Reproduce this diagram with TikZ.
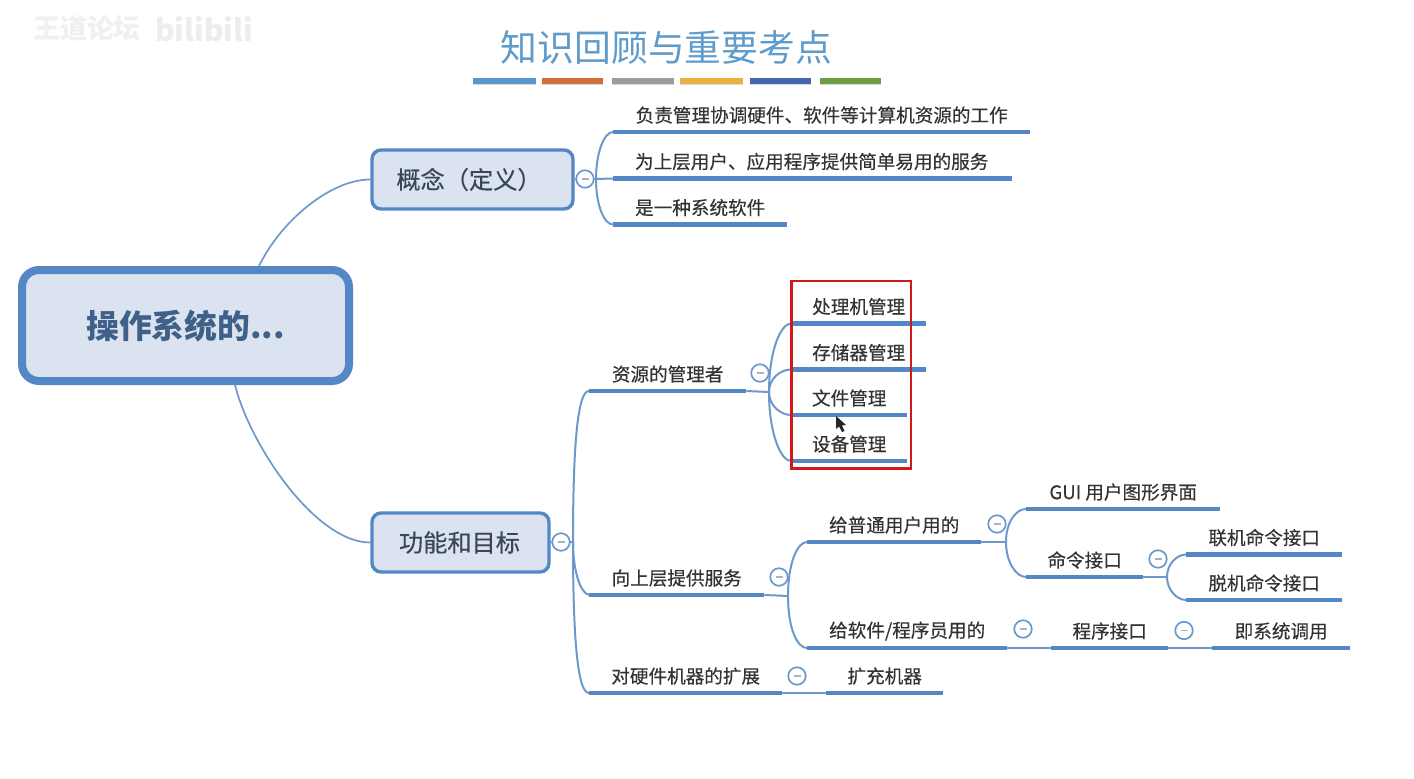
\documentclass[tikz,border=0pt]{standalone}
\usepackage{fontspec}
\setmainfont{Noto Sans CJK SC}
\newfontfamily\semifont[FakeBold=0.35]{Noto Sans CJK SC}
\definecolor{blueline}{HTML}{5487C6}
\definecolor{thinline}{HTML}{6C98CC}
\definecolor{boxfill}{HTML}{DAE3EF}
\definecolor{roottext}{HTML}{3F6088}
\definecolor{titleblue}{HTML}{5F9CCB}
\definecolor{bodytext}{HTML}{333333}
\definecolor{level1text}{HTML}{3A4654}
\definecolor{minusgray}{HTML}{A8B4C4}
\tikzset{
  x=1pt,y=-1pt,
  rootbox/.style={draw=blueline,fill=boxfill,line width=8pt,rounded corners=17pt,inner sep=0pt,
    font=\fontsize{32.8}{36}\selectfont\bfseries,text=roottext},
  levelbox/.style={draw=blueline,fill=boxfill,line width=3.4pt,rounded corners=9pt,inner sep=0pt,
    font=\semifont\fontsize{24.2}{28}\selectfont,text=level1text},
  topicnode/.style={inner sep=0pt,anchor=south west,minimum height=33.5pt,
    font=\semifont\fontsize{18.6}{22}\selectfont,text=bodytext},
  topicline/.style={draw=blueline,line width=4.8pt},
  branch/.style={draw=thinline,line width=2pt},
  rootbranch/.style={draw=thinline,line width=1.7pt},
  collapse/.style={circle,draw=thinline,line width=1.7pt,fill=white,minimum size=17.5pt,inner sep=0pt},
  colorbar/.style={line width=6pt},
  barshadow/.style={line width=6pt,draw=black!30,opacity=.5}
}
\newcommand{\tpc}[5]{%
  \node[topicnode,minimum width={(#3-#2)*1pt}] (#1) at (#2,#4) {#5};
  \draw[topicline] (#1.south west) -- (#1.south east);}
\newcommand{\minusmark}{\textcolor{minusgray}{\rule[0.2pt]{7pt}{1.2pt}}}
\begin{document}
\begin{tikzpicture}
\useasboundingbox (0,0) rectangle (1414,779);
% watermark
\node[text=black!6,font=\fontsize{27}{30}\selectfont\bfseries] (wm1) at (87,28) {王道论坛};
\node[text=black!7,font=\fontsize{30}{32}\selectfont\bfseries] (wm2) at (204,29) {bilibili};
% title
\node[text=titleblue,font=\fontsize{36.8}{42}\selectfont] (title) at (666.5,48) {知识回顾与重要考点};
\foreach \a/\b/\c in {473/536/5B96CB,542/603/CF7138,612/674/9C9C9C,680/743/EDB043,750/811/4468AE,820/881/6F9C47}{
  \draw[barshadow] (\a,82) -- (\b,82);
  \definecolor{barcol}{HTML}{\c}
  \draw[colorbar,draw=barcol] (\a,80.5) -- (\b,80.5);
}
% main boxes
\node[levelbox,minimum width=201pt,minimum height=59pt] (concept) at (472.5,179.5) {\hspace{-7pt}概念（定义）};
\node[levelbox,minimum width=177pt,minimum height=59pt] (func) at (460.5,542.5) {\hspace{-2pt}功能和目标};
% topics
\tpc{c1}{613}{1030}{132}{负责管理协调硬件、软件等计算机资源的工作}
\tpc{c2}{613}{1012}{178.5}{\hspace{-2pt}为上层用户、应用程序提供简单易用的服务}
\tpc{c3}{613}{787}{224.5}{是一种系统软件}
\tpc{res}{589}{746}{391}{资源的管理者}
\tpc{up}{589}{764}{595}{向上层提供服务}
\tpc{hw}{589}{782}{693}{对硬件机器的扩展}
\tpc{ext}{826}{943}{693}{扩充机器}
\tpc{m1}{791}{926}{323.5}{处理机管理}
\tpc{m2}{791}{926}{369.5}{存储器管理}
\tpc{m3}{791}{907}{415}{文件管理}
\tpc{m4}{791}{907}{461}{设备管理}
\tpc{usr}{807}{981}{542}{给普通用户用的}
\tpc{dev}{807}{1007}{648}{给软件/程序员用的}
\tpc{prog}{1051}{1168}{648}{程序接口}
\tpc{sys}{1212}{1350}{648}{即系统调用}
\tpc{gui}{1026}{1220}{509}{GUI 用户图形界面}
\tpc{cmd}{1026}{1143}{577}{命令接口}
\tpc{on}{1186}{1342}{554.5}{联机命令接口}
\tpc{off}{1186}{1342}{600}{脱机命令接口}
% junctions
\coordinate (jc) at (596,179);
\coordinate (jf) at (573,542);
\coordinate (jres) at (769,392);
\coordinate (jup) at (788,596);
\coordinate (jusr) at (1006,542);
\coordinate (jcmd) at (1167,577);
% root
\node[rootbox,minimum width=327pt,minimum height=111pt] (root) at (185.5,325.5) {操作系统的...};
% root connectors
\draw[rootbranch] ([xshift=73.5pt]root.north) .. controls +(22,-45) and +(-40,0) .. (concept.west);
\draw[rootbranch] ([xshift=49.5pt]root.south) .. controls +(15,60) and +(-55,0) .. (func.west);
% concept branches
\draw[branch] (concept.east) -- (jc);
\draw[branch] (jc) .. controls +(0,-26) and +(-9,0) .. (c1.south west);
\draw[branch] (jc) -- (c2.south west);
\draw[branch] (jc) .. controls +(0,26) and +(-9,0) .. (c3.south west);
% function branches
\draw[branch] (func.east) -- (jf);
\draw[branch] (jf) .. controls +(0,-110) and +(-10,0) .. (res.south west);
\draw[branch] (jf) .. controls +(0,28) and +(-9,-2) .. (up.south west);
\draw[branch] (jf) .. controls +(0,110) and +(-10,0) .. (hw.south west);
% resource branches
\draw[branch] (res.south east) -- (jres);
\draw[branch] (jres) .. controls +(0,-42) and +(-10,0) .. (m1.south west);
\draw[branch] (jres) .. controls +(0,-14) and +(-10,0) .. (m2.south west);
\draw[branch] (jres) .. controls +(0,14) and +(-10,0) .. (m3.south west);
\draw[branch] (jres) .. controls +(0,42) and +(-10,0) .. (m4.south west);
% service branches
\draw[branch] (up.south east) -- (jup);
\draw[branch] (jup) .. controls +(0,-32) and +(-10,0) .. (usr.south west);
\draw[branch] (jup) .. controls +(0,32) and +(-10,0) .. (dev.south west);
\draw[branch] (usr.south east) -- (jusr);
\draw[branch] (jusr) .. controls +(0,-20) and +(-10,0) .. (gui.south west);
\draw[branch] (jusr) .. controls +(0,20) and +(-10,0) .. (cmd.south west);
\draw[branch] (cmd.south east) -- (jcmd);
\draw[branch] (jcmd) .. controls +(0,-13) and +(-9,0) .. (on.south west);
\draw[branch] (jcmd) .. controls +(0,13) and +(-9,0) .. (off.south west);
\draw[branch] (dev.south east) -- (prog.south west);
\draw[branch] (prog.south east) -- (sys.south west);
\draw[branch] (hw.south east) -- (ext.south west);
% collapse marks
\node[collapse] (k1) at (585,179) {\minusmark};
\node[collapse] (k2) at (561,542) {\minusmark};
\node[collapse] (k3) at (760,373) {\minusmark};
\node[collapse] (k4) at (779,577) {\minusmark};
\node[collapse] (k5) at (797,676) {\minusmark};
\node[collapse] (k6) at (997,524) {\minusmark};
\node[collapse] (k7) at (1158,559) {\minusmark};
\node[collapse] (k8) at (1023,629) {\minusmark};
\node[collapse] (k9) at (1184,630.5) {\minusmark};
% red highlight box
\draw[draw=red!80!black!90,line width=2.6pt] (791.5,281) rectangle (911,468.5);
% mouse pointer
\fill[black!85] (836,416) -- (836,429) -- (839,426.5) -- (842,432) -- (844.5,431) -- (842,425.5) -- (846,425) -- cycle;
\end{tikzpicture}
\end{document}
